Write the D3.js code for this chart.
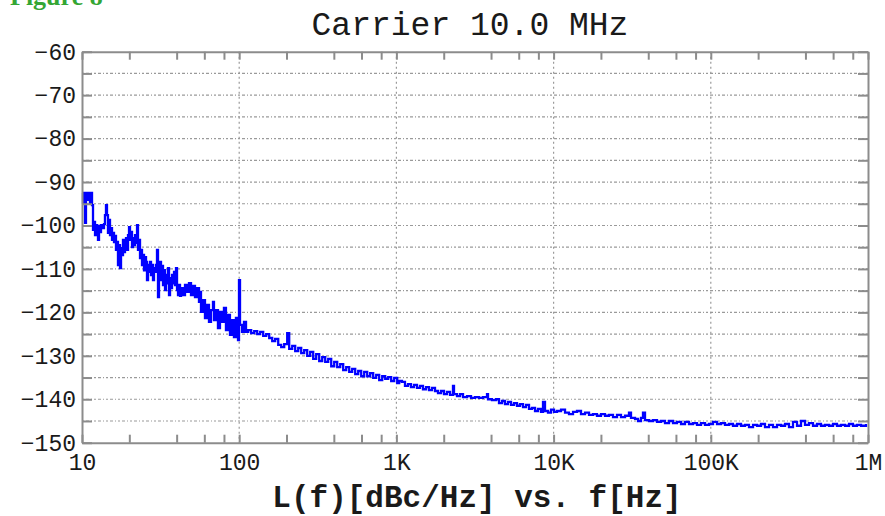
<!DOCTYPE html>
<html>
<head>
<meta charset="utf-8">
<script src="https://cdn.jsdelivr.net/npm/d3@7"></script>
<style>
  body { margin: 0; background: #fff; }
</style>
</head>
<body>
<svg id="chart" width="885" height="516"></svg>
<script>
// Phase noise trace, one pair of arrays per decade
// -----------------------------------------------
var freqA = [10.0,10.15,10.3,10.45,10.6,10.92,11.08,11.24,11.41,11.58,
  11.75,11.92,12.1,12.28,12.46,12.64,12.83,13.02,13.21,13.4,
  13.8,14.0,14.21,14.42,14.63,14.85,15.07,15.29,15.52,15.75,
  15.98,16.22,16.45,16.7,16.94,17.19,17.45,17.71,17.97,18.23,
  18.5,18.77,19.05,19.33,19.62,19.91,20.2,20.5,20.8,21.11,
  21.42,21.74,22.06,22.39,22.71,23.05,23.39,23.74,24.08,24.44,
  24.8,25.17,25.54,25.91,26.3,26.68,27.08,27.48,27.88,28.29,
  28.71,29.13,29.56,30.0,30.44,30.89,31.35,31.81,32.28,32.76,
  33.24,33.73,34.23,34.73,35.25,35.77,36.3,36.83,37.38,37.93,
  38.49,39.06,39.63,40.22,40.81,41.41,42.02,42.64,43.91,45.21,
  46.55,47.94,49.36,50.82,52.33,53.89,55.49,56.31,57.15,58.84,
  60.58,62.39,64.24,66.14,68.11,69.11,71.16,73.27,75.45,77.69,
  80.0,82.37,84.82,87.33,89.93,92.6,95.34,98.26,99.7];
var levelA = [-92.5,-94.8,-92.5,-99.4,-92.5,-94.1,-92.5,-94.8,-92.5,-95.3,
  -101.0,-99.2,-102.2,-99.9,-101.7,-103.3,-100.1,-101.5,-99.9,-100.6,
  -99.7,-97.6,-95.3,-97.6,-101.7,-98.7,-102.2,-100.6,-103.3,-101.7,
  -103.8,-102.4,-105.6,-103.8,-109.1,-104.5,-109.8,-105.2,-106.8,-103.3,
  -106.1,-104.5,-102.9,-105.6,-102.2,-100.4,-103.3,-101.5,-105.0,-102.9,
  -104.5,-102.2,-104.0,-99.9,-105.6,-103.3,-107.5,-105.6,-109.1,-106.8,
  -110.3,-107.3,-108.4,-112.6,-109.1,-110.7,-108.4,-111.4,-109.1,-112.6,
  -109.8,-110.7,-109.1,-105.6,-116.5,-110.3,-108.4,-112.6,-109.3,-113.7,
  -110.3,-114.9,-111.4,-113.3,-109.8,-116.0,-112.1,-114.4,-111.4,-113.3,
  -110.7,-113.7,-109.8,-114.9,-116.0,-113.7,-116.2,-114.4,-116.0,-113.7,
  -115.3,-113.3,-116.0,-113.9,-116.5,-114.4,-117.6,-115.3,-119.9,-117.2,
  -121.3,-118.3,-122.2,-119.5,-117.6,-121.8,-119.5,-123.6,-119.9,-122.2,
  -119.0,-124.1,-120.6,-125.2,-121.8,-125.7,-121.3,-126.4,-112.6];

var freqB = [101.2,104.2,107.3,110.5,114.1,119.2,124.6,130.2,136.0,142.1,
  148.5,155.2,162.2,169.4,177.1,185.0,193.3,202.0,208.0,217.4,
  227.1,237.4,248.0,259.1,270.8,282.9,295.6,308.9,322.8,337.3,
  352.5,368.3,384.9,402.2,420.2,439.1,458.7,479.4,501.0,523.3,
  547.0,571.5,597.2,624.0,652.1,681.1,711.8,743.8,777.2,812.3,
  848.7,886.7,926.6,968.3,1012,1042];
var levelB = [-122.9,-124.5,-122.2,-124.5,-124.1,-124.8,-124.3,-125.0,-124.5,-125.4,
  -125.0,-125.9,-126.6,-126.1,-127.5,-128.0,-127.3,-124.8,-128.4,-127.7,
  -128.9,-128.2,-129.4,-128.7,-130.0,-129.1,-130.7,-129.6,-131.2,-130.3,
  -131.4,-130.7,-132.4,-131.4,-132.6,-131.9,-133.3,-132.6,-133.7,-133.0,
  -134.2,-133.5,-134.7,-133.7,-134.7,-134.0,-135.1,-134.4,-135.6,-134.7,
  -135.3,-134.9,-135.8,-135.1,-136.3,-135.8];

var freqC = [1085,1134,1185,1238,1294,1352,1413,1476,1543,1612,
  1684,1760,1839,1922,2008,2098,2193,2291,2325,2429,
  2539,2653,2813,2983,3162,3353,3555,3771,3826,4057,
  4301,4495,4697,4907,5128,5358,5600,5851,6114,6388,
  6676,6976,7290,7617,7959,8317,8563,8816,9213,9627,10060];
var levelC = [-136.0,-136.9,-136.5,-137.2,-136.7,-137.4,-136.9,-137.7,-137.2,-137.9,
  -137.4,-138.1,-138.6,-138.1,-138.8,-138.3,-139.0,-136.9,-138.8,-139.3,
  -138.8,-139.5,-139.3,-139.7,-139.5,-139.7,-139.5,-138.8,-140.0,-140.2,
  -140.0,-140.9,-140.4,-141.1,-140.6,-141.3,-140.9,-141.5,-141.1,-141.8,
  -141.3,-142.2,-142.0,-142.7,-142.2,-142.9,-140.6,-142.7,-143.1,-142.4,-142.9];

var freqD = [10510,11150,11820,12530,13290,14090,14940,15840,16800,17810,
  18880,20020,21230,22510,23870,25310,26840,28460,30170,31070,
  32950,34430,35970,37040,38150,40450,42900,45480,48230,51130,
  54220,57490,60950,64630,68530,72660,77050,81690,86620,91850,97390];
var levelD = [-142.7,-142.4,-143.1,-143.4,-142.9,-142.7,-143.4,-143.1,-143.6,-143.4,
  -143.8,-143.4,-143.8,-143.6,-144.1,-143.6,-144.1,-143.8,-143.1,-144.3,
  -144.5,-145.0,-144.3,-143.1,-144.8,-145.0,-144.8,-145.2,-145.0,-145.5,
  -145.0,-145.5,-145.2,-145.7,-145.2,-145.7,-145.5,-145.9,-145.5,-145.9,-145.7];

var freqE = [103300,109500,116100,123100,130600,138400,146800,155700,165100,175000,
  185600,196800,208600,221200,234600,248700,263700,279600,296500,314400,
  333300,353500,374800,397400,421300,446800,473700,502300,532700,564800,
  598900,635000,673300,714000,757000,802700,851100,902600,971200];
var levelE = [-145.2,-145.7,-145.5,-145.9,-145.7,-146.1,-145.7,-146.1,-145.9,-146.4,
  -145.9,-146.1,-145.7,-146.4,-145.9,-146.4,-145.9,-146.1,-145.7,-146.4,
  -145.2,-146.1,-145.0,-145.9,-145.5,-146.1,-145.7,-146.1,-145.9,-146.1,
  -145.7,-146.1,-145.9,-146.1,-145.7,-146.1,-145.9,-146.1,-145.7];

// Axis ticks
// ----------
var decadeTicks = [10, 100, 1e3, 1e4, 1e5, 1e6];
var decadeLabels = ["10", "100", "1K", "10K", "100K", "1M"];
var minorMultiples = [2, 4, 6, 8];
var dbTicks = [-150,-145,-140,-135,-130,-125,-120,-115,-110,-105,
  -100,-95,-90,-85,-80,-75,-70,-65,-60];
var dbLabels = [-150,-140,-130,-120,-110,-100,-90,-80,-70,-60];

var titleText = "Carrier 10.0 MHz";
var xTitle = "L(f)[dBc/Hz] vs. f[Hz]";
var figureText = "Figure 8";

(function () {

  // Layout
  // ------
  var plotLeft = 82, plotRight = 868, plotTop = 51.7, plotBottom = 442.7;
  var frameColor = "#8c8c8c", gridColor = "#9a9a9a";
  var mono = "'Liberation Mono', 'Courier New', monospace";

  var svg = d3.select("#chart");

  var xScale = d3.scaleLog().domain([10, 1e6]).range([plotLeft, plotRight]);
  var yScale = d3.scaleLinear().domain([-150, -60]).range([plotBottom, plotTop]);

  // build the tick list for the log axis
  var xTickValues = [];
  decadeTicks.forEach(function (d, i) {
    xTickValues.push(d);
    if (i < decadeTicks.length - 1) {
      minorMultiples.forEach(function (m) { xTickValues.push(d * m); });
    }
  });

  // Grid
  // ----
  var grid = svg.append("g").attr("class", "grid");

  grid.selectAll(".hgrid")
    .data(dbTicks.filter(function (d) { return d > -150 && d < -60; }))
    .enter().append("line")
    .attr("x1", plotLeft).attr("x2", plotRight)
    .attr("y1", function (d) { return yScale(d); })
    .attr("y2", function (d) { return yScale(d); })
    .attr("stroke", gridColor)
    .attr("stroke-width", 1.2)
    .attr("stroke-dasharray", "2,2,3,2,1,2");

  grid.selectAll(".vgrid")
    .data(decadeTicks.slice(1, -1))
    .enter().append("line")
    .attr("x1", function (d) { return xScale(d); })
    .attr("x2", function (d) { return xScale(d); })
    .attr("y1", plotTop).attr("y2", plotBottom)
    .attr("stroke", gridColor)
    .attr("stroke-width", 1.2)
    .attr("stroke-dasharray", "2,3");

  // Trace
  // -----
  var trace = [];
  [[freqA, levelA], [freqB, levelB], [freqC, levelC], [freqD, levelD], [freqE, levelE]]
    .forEach(function (pair) {
      pair[0].forEach(function (f, i) { trace.push({f: f, db: pair[1][i]}); });
    });

  var line = d3.line()
    .curve(d3.curveStepAfter)
    .x(function (d) { return xScale(d.f); })
    .y(function (d) { return yScale(d.db); });

  svg.append("path")
    .datum(trace)
    .attr("d", line)
    .attr("fill", "none")
    .attr("stroke", "#0000ff")
    .attr("stroke-width", 2.3)
    .attr("stroke-linejoin", "miter");

  // Axes
  // ----
  function styleAxis(g) {
    g.select(".domain").attr("stroke", frameColor).attr("stroke-width", 2);
    g.selectAll(".tick line").attr("stroke", frameColor).attr("stroke-width", 2);
    g.selectAll("text")
      .attr("font-family", mono)
      .attr("font-size", 23)
      .attr("fill", "#1a1a1a");
  }

  var xBottom = d3.axisBottom(xScale)
    .tickValues(xTickValues)
    .tickSize(-8).tickSizeOuter(0).tickPadding(11)
    .tickFormat(function (d) {
      var i = decadeTicks.indexOf(d);
      return i < 0 ? "" : decadeLabels[i];
    });
  svg.append("g").attr("transform", "translate(0," + plotBottom + ")").call(xBottom).call(styleAxis);

  var xTop = d3.axisTop(xScale)
    .tickValues(xTickValues)
    .tickSize(-8).tickSizeOuter(0)
    .tickFormat("");
  svg.append("g").attr("transform", "translate(0," + plotTop + ")").call(xTop).call(styleAxis);

  var yLeft = d3.axisLeft(yScale)
    .tickValues(dbTicks)
    .tickSize(-10).tickSizeOuter(0).tickPadding(6)
    .tickFormat(function (d) { return dbLabels.indexOf(d) < 0 ? "" : d3.format("d")(d); });
  svg.append("g").attr("transform", "translate(" + plotLeft + ",0)").call(yLeft).call(styleAxis);

  var yRight = d3.axisRight(yScale)
    .tickValues(dbTicks)
    .tickSize(-10).tickSizeOuter(0)
    .tickFormat("");
  svg.append("g").attr("transform", "translate(" + plotRight + ",0)").call(yRight).call(styleAxis);

  // Titles
  // ------
  svg.append("text")
    .attr("x", 470).attr("y", 35)
    .attr("text-anchor", "middle")
    .attr("font-family", mono)
    .attr("font-size", 33)
    .attr("fill", "#1a1a1a")
    .text(titleText);

  svg.append("text")
    .attr("x", 477).attr("y", 507)
    .attr("text-anchor", "middle")
    .attr("font-family", mono)
    .attr("font-weight", "bold")
    .attr("font-size", 31)
    .attr("fill", "#1a1a1a")
    .text(xTitle);

  svg.append("text")
    .attr("x", 10).attr("y", 5)
    .attr("font-family", "'Liberation Serif', serif")
    .attr("font-weight", "bold")
    .attr("font-size", 26)
    .attr("fill", "#34a634")
    .text(figureText);

})();
</script>
</body>
</html>
